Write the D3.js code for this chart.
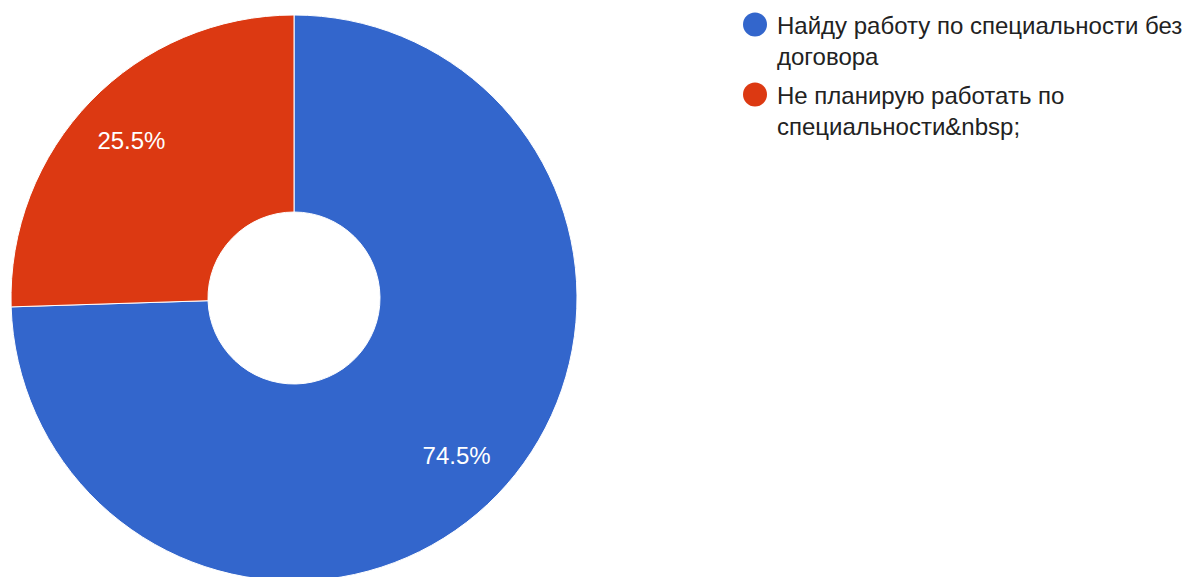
<!DOCTYPE html>
<html>
<head>
<meta charset="utf-8">
<script src="https://cdn.jsdelivr.net/npm/d3@7"></script>
<style>
  body { margin: 0; background: #fff; }
  svg { display: block; }
  text { font-family: "Liberation Sans", Arial, sans-serif; }
</style>
</head>
<body>
<svg id="chart"></svg>
<script>
// данные
var categories = ["Найду работу по специальности без договора", "Не планирую работать по специальности&nbsp;"];
var values = [74.5, 25.5];
var colors = ["#3366cc", "#dc3912"];

var width = 1187,
    height = 577;

var cx = 294, cy = 298;
var outerR = 283, innerR = 86;

var svg = d3.select("#chart")
  .attr("width", width)
  .attr("height", height);

var pie = d3.pie().sort(null).value(d => d);
var arc = d3.arc().innerRadius(innerR).outerRadius(outerR);
var labelArc = d3.arc().innerRadius(outerR * 0.8).outerRadius(outerR * 0.8);

var g = svg.append("g").attr("transform", `translate(${cx},${cy})`);

var slices = g.selectAll("g.slice")
  .data(pie(values))
  .enter()
  .append("g")
    .attr("class", "slice");

slices.append("path")
  .attr("d", arc)
  .attr("fill", (d, i) => colors[i])
  .attr("stroke", "#fff")
  .attr("stroke-width", 1);

slices.append("text")
  .attr("transform", d => `translate(${labelArc.centroid(d)})`)
  .attr("text-anchor", "middle")
  .attr("dy", "0.35em")
  .attr("fill", "#fff")
  .attr("font-size", 24)
  .text(d => d.data.toFixed(1) + "%");

// легенда
var legend = svg.append("g").attr("transform", "translate(755,0)");
var lineH = 31;
var maxW = 420;
var y = 34;

categories.forEach(function (label, i) {
  legend.append("circle")
    .attr("cx", 0)
    .attr("cy", y - 9.5)
    .attr("r", 12)
    .attr("fill", colors[i]);

  var t = legend.append("text")
    .attr("x", 22)
    .attr("y", y)
    .attr("font-size", 24)
    .attr("fill", "#222");

  // перенос строк по ширине
  var words = label.split(" ");
  var line = [];
  var tspan = t.append("tspan").attr("x", 22).attr("dy", 0);
  var lines = 1;
  words.forEach(function (w) {
    line.push(w);
    tspan.text(line.join(" "));
    if (tspan.node().getComputedTextLength() > maxW && line.length > 1) {
      line.pop();
      tspan.text(line.join(" "));
      line = [w];
      tspan = t.append("tspan").attr("x", 22).attr("dy", lineH).text(w);
      lines++;
    }
  });
  y += lines * lineH + 8;
});
</script>
</body>
</html>
